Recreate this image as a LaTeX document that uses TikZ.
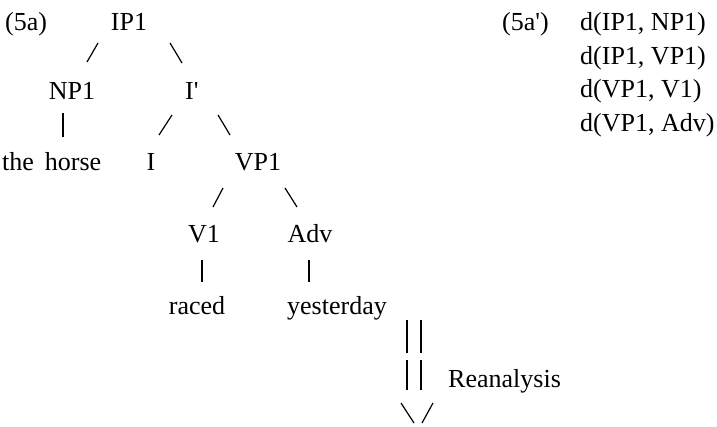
\documentclass[tikz,border=0pt]{standalone}
\usepackage{fontspec}
\setmainfont{Liberation Serif}
\begin{document}
\begin{tikzpicture}[x=1pt,y=-1pt,
  lab/.style={inner sep=0pt,anchor=base,font=\fontsize{26}{30}\selectfont},
  labw/.style={lab,anchor=base west},
  branch/.style={line width=1.2pt},
  bar/.style={line width=1.8pt}]
\useasboundingbox (0,0) rectangle (717,426);
% tree (5a)
\node[labw] (ex)   at (5,30)    {(5a)};
\node[lab]  (IP1)  at (129,30)  {IP1};
\node[lab]  (NP1)  at (72,99)   {NP1};
\node[labw] (Ibar) at (185,99)  {I\textquotesingle};
\node[labw] (horse) at (2,170)  {the\hspace{11pt}horse};
\node[lab]  (I)    at (151,170) {I};
\node[lab]  (VP1)  at (258,170) {VP1};
\node[lab]  (V1)   at (204,242) {V1};
\node[lab]  (Adv)  at (310,242) {Adv};
\node[lab]  (raced) at (197,314) {raced};
\node[lab]  (yest) at (337,314) {yesterday};
\node[labw] (rean) at (448,387) {Reanalysis};
% branch strokes
\coordinate (b1a) at (98,43);  \coordinate (b1b) at (87,62);
\coordinate (b2a) at (170,43); \coordinate (b2b) at (182,63);
\coordinate (b3a) at (63,113); \coordinate (b3b) at (63,137);
\coordinate (b4a) at (172,115); \coordinate (b4b) at (159,135);
\coordinate (b5a) at (218,115); \coordinate (b5b) at (230,135);
\coordinate (b6a) at (223,188); \coordinate (b6b) at (213,207);
\coordinate (b7a) at (285,188); \coordinate (b7b) at (297,207);
\coordinate (b8a) at (202,260); \coordinate (b8b) at (202,282);
\coordinate (b9a) at (309,260); \coordinate (b9b) at (309,282);
\draw[branch] (b1a) -- (b1b);
\draw[branch] (b2a) -- (b2b);
\draw[bar]    (b3a) -- (b3b);
\draw[branch] (b4a) -- (b4b);
\draw[branch] (b5a) -- (b5b);
\draw[branch] (b6a) -- (b6b);
\draw[branch] (b7a) -- (b7b);
\draw[bar]    (b8a) -- (b8b);
\draw[bar]    (b9a) -- (b9b);
% reanalysis arrow built from strokes
\coordinate (r1) at (407,320); \coordinate (r2) at (407,353);
\coordinate (r3) at (421,320); \coordinate (r4) at (421,353);
\coordinate (r5) at (407,360); \coordinate (r6) at (407,390);
\coordinate (r7) at (421,360); \coordinate (r8) at (421,390);
\coordinate (r9) at (401,403); \coordinate (r10) at (414,423);
\coordinate (r11) at (433,403); \coordinate (r12) at (422,423);
\draw[bar] (r1) -- (r2);
\draw[bar] (r3) -- (r4);
\draw[bar] (r5) -- (r6);
\draw[bar] (r7) -- (r8);
\draw[branch] (r9) -- (r10);
\draw[branch] (r11) -- (r12);
% dominance list (5a')
\node[labw] (exb) at (502,30)  {(5a\textquotesingle)};
\node[labw] (d1)  at (580,30)  {d(IP1, NP1)};
\node[labw] (d2)  at (580,64)  {d(IP1, VP1)};
\node[labw] (d3)  at (580,97)  {d(VP1, V1)};
\node[labw] (d4)  at (580,131) {d(VP1, Adv)};
\end{tikzpicture}
\end{document}
